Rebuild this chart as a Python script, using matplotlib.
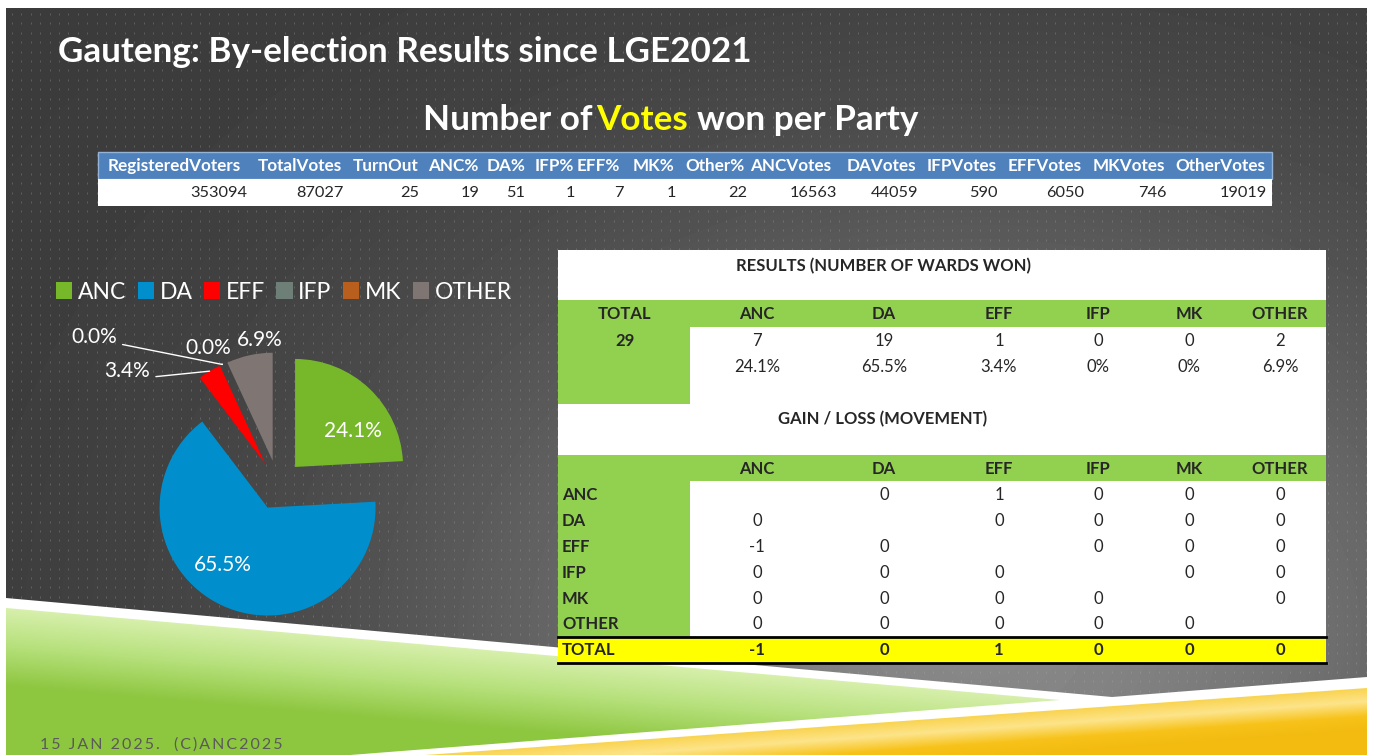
import matplotlib
matplotlib.use("Agg")
import matplotlib.pyplot as plt
from matplotlib.patches import Rectangle, Polygon
from matplotlib.colors import LinearSegmentedColormap
import numpy as np

W, H = 1373, 755

# summary row at the top
summary_cols = ["RegisteredVoters", "TotalVotes", "TurnOut", "ANC%", "DA%", "IFP%", "EFF%", "MK%",
                "Other%", "ANCVotes", "DAVotes", "IFPVotes", "EFFVotes", "MKVotes", "OtherVotes"]
summary_vals = [353094, 87027, 25, 19, 51, 1, 7, 1, 22, 16563, 44059, 590, 6050, 746, 19019]

# wards won per party
parties = ["ANC", "DA", "EFF", "IFP", "MK", "OTHER"]
wards_won = [7, 19, 1, 0, 0, 2]
party_colors = ["#76b82a", "#008fcc", "#ff0000", "#6e7f78", "#b95f1e", "#7f7674"]

# gain / loss matrix (row party -> column party), None on the diagonal
movement = [
    [None, 0, 1, 0, 0, 0],
    [0, None, 0, 0, 0, 0],
    [-1, 0, None, 0, 0, 0],
    [0, 0, 0, None, 0, 0],
    [0, 0, 0, 0, None, 0],
    [0, 0, 0, 0, 0, None],
]

FONT = "Lato"
DARK = "#262626"

fig = plt.figure(figsize=(W / 100, H / 100), dpi=100)
fig.patch.set_facecolor("white")
ax = fig.add_axes([0, 0, 1, 1])
ax.set_xlim(0, W)
ax.set_ylim(H, 0)
ax.axis("off")

# ---- slide background ----
xs = np.linspace(6, 1367, 400)
ys = np.linspace(8, 755, 220)
X, Y = np.meshgrid(xs, ys)
bg = 0.23 + 0.30 * np.exp(-(((X - 980) / 560) ** 2 + ((Y - 640) / 430) ** 2))
ax.imshow(bg, cmap="gray", vmin=0, vmax=1, extent=[6, 1367, 755, 8], aspect="auto",
          zorder=0, interpolation="bilinear")
dx, dy = np.meshgrid(np.arange(12, 1367, 9.4), np.arange(14, 755, 9.4))
ax.scatter(dx.ravel(), dy.ravel(), s=1.2, marker="|", color="#b0b0b0", alpha=0.35,
           linewidths=0.6, zorder=1)

# bottom decoration
ax.add_patch(Polygon([(6, 598), (1112, 697), (1367, 677), (1367, 755), (6, 755)],
                     closed=True, facecolor="white", edgecolor="none", zorder=2))
green_poly = Polygon([(6, 608), (1060, 700), (350, 755), (6, 755)], closed=True,
                     facecolor="none", edgecolor="none", zorder=3)
ax.add_patch(green_poly)
top_g = 608 + (X - 6) * (700 - 608) / (1060 - 6)
tg = np.clip((Y - top_g) / 80, 0, 1)
gcmap = LinearSegmentedColormap.from_list("g", ["#d8f0ad", "#b5e07a", "#8dc63f"])
im = ax.imshow(tg, cmap=gcmap, vmin=0, vmax=1, extent=[6, 1367, 755, 8], aspect="auto",
               zorder=3, interpolation="bilinear")
im.set_clip_path(green_poly)

orange_poly = Polygon([(425, 755), (1367, 688), (1367, 755)], closed=True,
                      facecolor="none", edgecolor="none", zorder=3)
ax.add_patch(orange_poly)
top_o = 755 - (X - 425) * (755 - 688) / (1367 - 425)
to = np.clip((Y - top_o) / 45, 0, 1)
ocmap = LinearSegmentedColormap.from_list("o", ["#f9d24a", "#fde48a", "#f7c21a", "#f3bb10"])
im2 = ax.imshow(to, cmap=ocmap, vmin=0, vmax=1, extent=[6, 1367, 755, 8], aspect="auto",
                zorder=3, interpolation="bilinear")
im2.set_clip_path(orange_poly)

footer = "15 JAN 2025.  (C)ANC2025"
ax.text(40, 745, "\u2009".join(footer), fontsize=11.5, color="#5a5a5a",
        family=[FONT, "DejaVu Sans"], va="center", ha="left", zorder=5)

# ---- titles ----
ax.text(58, 52, "Gauteng: By-election Results since LGE2021", fontsize=25.2, weight="bold",
        color="white", family=FONT, va="center", ha="left", zorder=5)
t1 = ax.text(423, 120, "Number of", fontsize=25.3, weight="bold", color="white", family=FONT,
             va="center", ha="left", zorder=5)
t2 = ax.annotate("Votes", xy=(1, 0), xycoords=t1, xytext=(4, 0), textcoords="offset pixels",
                 fontsize=25.3, weight="bold", color="#ffff00", family=FONT, va="bottom", zorder=5)
ax.annotate("won per Party", xy=(1, 0), xycoords=t2, xytext=(9, 0), textcoords="offset pixels",
            fontsize=25.3, weight="bold", color="white", family=FONT, va="bottom", zorder=5)

# ---- summary table ----
col_left = [101, 255, 352, 427, 487, 534, 573, 632, 682, 745, 845, 925, 1006, 1091, 1174]
col_right = [247, 344, 419, 480, 525, 575, 624, 676, 747, 837, 918, 998, 1084, 1167, 1267]
ax.add_patch(Rectangle((98, 152), 1174, 27, facecolor="#4f81bd", edgecolor="#95b3d7",
                       lw=1, zorder=4))
ax.add_patch(Rectangle((98, 179), 1174, 27, facecolor="white", edgecolor="none", zorder=4))
for name, val, xl, xr in zip(summary_cols, summary_vals, col_left, col_right):
    ax.text((xl + xr) / 2, 166, name, fontsize=12.3, weight="bold", color="white", family=FONT,
            ha="center", va="center", zorder=5)
    ax.text(xr, 193, str(val), fontsize=11.8, color=DARK, family=FONT,
            ha="right", va="center", zorder=5)

# ---- results table ----
tx0, tx1 = 558, 1326
ax.add_patch(Rectangle((tx0, 250), tx1 - tx0, 413, facecolor="white", edgecolor="none", zorder=4))
green = "#92d050"
ax.add_patch(Rectangle((tx0, 300), tx1 - tx0, 27, facecolor=green, edgecolor="none", zorder=4))
ax.add_patch(Rectangle((tx0, 327), 132, 77, facecolor=green, edgecolor="none", zorder=4))
ax.add_patch(Rectangle((tx0, 455), tx1 - tx0, 26, facecolor=green, edgecolor="none", zorder=4))
ax.add_patch(Rectangle((tx0, 481), 132, 156, facecolor=green, edgecolor="none", zorder=4))
ax.add_patch(Rectangle((tx0, 637), tx1 - tx0, 26, facecolor="#ffff00", edgecolor="none", zorder=4))
ax.plot([tx0, tx1], [637, 637], color="black", lw=2, zorder=5)
ax.plot([tx0, tx1], [663, 663], color="black", lw=2, zorder=5)

col_x = [757, 884, 999, 1098, 1189, 1280]
tfs = 12
ax.text(883, 266, "RESULTS (NUMBER OF WARDS WON)", fontsize=tfs, weight="bold", color=DARK,
        family=FONT, ha="center", va="center", zorder=5)
ax.text(625, 314, "TOTAL", fontsize=tfs, weight="bold", color=DARK, family=FONT,
        ha="center", va="center", zorder=5)
total_wards = sum(wards_won)
ax.text(625, 341, str(total_wards), fontsize=tfs, weight="bold", color=DARK, family=FONT,
        ha="center", va="center", zorder=5)
for p, n, x in zip(parties, wards_won, col_x):
    pct = 100 * n / total_wards
    ax.text(x, 314, p, fontsize=tfs, weight="bold", color=DARK, family=FONT,
            ha="center", va="center", zorder=5)
    ax.text(x, 341, str(n), fontsize=tfs, color=DARK, family=FONT,
            ha="center", va="center", zorder=5)
    ax.text(x, 367, f"{pct:.1f}%" if n else "0%", fontsize=tfs, color=DARK, family=FONT,
            ha="center", va="center", zorder=5)

ax.text(883, 419, "GAIN / LOSS (MOVEMENT)", fontsize=tfs, weight="bold", color=DARK,
        family=FONT, ha="center", va="center", zorder=5)
row_y = [495, 521, 547, 573, 599, 624]
for p, x in zip(parties, col_x):
    ax.text(x, 469, p, fontsize=tfs, weight="bold", color=DARK, family=FONT,
            ha="center", va="center", zorder=5)
for i, (p, y) in enumerate(zip(parties, row_y)):
    ax.text(562, y, p, fontsize=tfs, weight="bold", color=DARK, family=FONT,
            ha="left", va="center", zorder=5)
    for j, x in enumerate(col_x):
        v = movement[i][j]
        if v is not None:
            ax.text(x, y, str(v), fontsize=tfs, color=DARK, family=FONT,
                    ha="center", va="center", zorder=5)
totals = [sum(row[j] for row in movement if row[j] is not None) for j in range(len(parties))]
ax.text(562, 650, "TOTAL", fontsize=tfs, weight="bold", color=DARK, family=FONT,
        ha="left", va="center", zorder=5)
for t, x in zip(totals, col_x):
    ax.text(x, 650, str(t), fontsize=tfs, weight="bold", color=DARK, family=FONT,
            ha="center", va="center", zorder=5)

# ---- pie ----
cx, cy, rad = 278, 485, 108
box = 300
lim = box / 2 / rad
pax = fig.add_axes([(cx - box / 2) / W, (H - cy - box / 2) / H, box / W, box / H])
pax.axis("off")
explode = 0.23
wedges, _ = pax.pie(wards_won, colors=party_colors, startangle=90, counterclock=False,
                    explode=[explode] * len(parties), radius=1, normalize=True,
                    wedgeprops=dict(linewidth=0))
pax.set_xlim(-lim, lim)
pax.set_ylim(-lim, lim)
pax.set_aspect("equal")

lab_kw = dict(fontsize=15, color="white", family=FONT, ha="center", va="center")
# (distance factor, pixel offset for label, leader line)
label_style = {
    "ANC": (0.82, (-3, -28), False),
    "DA": (0.82, (-8, 23), False),
    "EFF": (1.0, (-82, 0), True),
    "IFP": (1.0, (-128, 27), True),
    "MK": (1.0, (-14, 16), True),
    "OTHER": (1.0, (10, 15), False),
}
for w, p, n in zip(wedges, parties, wards_won):
    mid = np.deg2rad((w.theta1 + w.theta2) / 2)
    dist, off, leader = label_style[p]
    r = explode + dist
    pt = (r * np.cos(mid), r * np.sin(mid))
    txt = f"{100 * n / total_wards:.1f}%"
    if leader:
        relpos = (1, 0.2) if p != "MK" else (0.8, 0)
        pax.annotate(txt, xy=pt, xytext=off, textcoords="offset pixels", **lab_kw,
                     arrowprops=dict(arrowstyle="-", color="white", lw=1, relpos=relpos,
                                     shrinkA=2, shrinkB=0))
    else:
        pax.annotate(txt, xy=pt, xytext=off, textcoords="offset pixels", **lab_kw)

fig.legend(wedges, parties, loc="center", bbox_to_anchor=(284 / W, 1 - 292 / H),
           ncol=6, frameon=False, labelcolor="white",
           handlelength=0.7, handleheight=0.7, handletextpad=0.25, columnspacing=0.5,
           prop=dict(family=FONT, size=16.5))

fig.savefig("out.png", dpi=100, facecolor="white")
